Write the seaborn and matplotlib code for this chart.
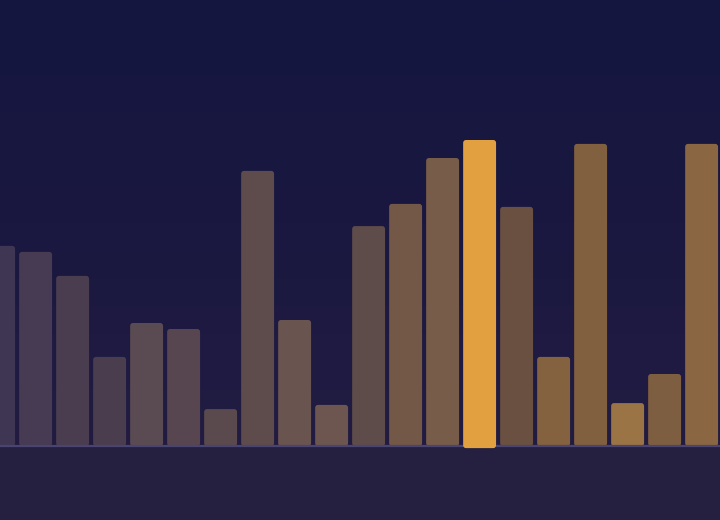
import numpy as np
import pandas as pd
import seaborn as sns
import matplotlib.pyplot as plt
from matplotlib.colors import LinearSegmentedColormap
from matplotlib.patches import FancyBboxPatch

# data
labels = [f"b{i:02d}" for i in range(20)]
values = [66.7, 64.7, 56.7, 29.7, 41.0, 39.0, 12.3, 91.7, 42.0, 13.7,
          73.3, 80.7, 96.0, 102.0, 79.7, 29.7, 100.7, 14.3, 24.0, 100.7]
highlight = 13

bar_colors = ["#3f3654", "#463b52", "#4a3d50", "#4a3d4e", "#5a4a52",
              "#574650", "#5a4a4e", "#5e4c4c", "#6a5450", "#6e5650",
              "#5e4c4a", "#735848", "#785c4a", "#e2a040", "#6a5040",
              "#84623f", "#80603f", "#9a7445", "#7e5e40", "#8a6642"]

df = pd.DataFrame({"label": labels, "value": values})

sns.set_style("white")
fig = plt.figure(figsize=(7.2, 5.2), dpi=100)
fig.patch.set_facecolor("#262040")
ax = fig.add_axes([0, 0, 1, 1])
ax.set_facecolor("#262040")

sns.barplot(data=df, x="label", y="value", hue="label", palette=bar_colors,
            width=0.89, legend=False, saturation=1, ax=ax, zorder=2)

# rounded bars
bars = list(ax.patches)
for i, p in enumerate(bars):
    x, w, h = p.get_x(), p.get_width(), p.get_height()
    y0 = -0.7 if i == highlight else 0
    rb = FancyBboxPatch((x + 0.03, y0), w, h - y0,
                        boxstyle="round,pad=0,rounding_size=0.075",
                        mutation_aspect=13.0,
                        facecolor=p.get_facecolor(), edgecolor="none",
                        zorder=3 if i == highlight else 2)
    p.remove()
    ax.add_patch(rb)

# background gradient above baseline
bg = LinearSegmentedColormap.from_list("bg", ["#141640", "#1a1840", "#221c42"])
grad = np.linspace(0, 1, 256).reshape(-1, 1)
ax.imshow(grad, cmap=bg, aspect="auto", extent=[0, 1, 74 / 520, 1],
          transform=ax.transAxes, zorder=0)

ax.axhline(0.0, color="#4a4470", lw=1.6, zorder=2.5)

ax.set_xlim(0.0676, 19.527)
ax.set_ylim(-74 / 3, 446 / 3)
ax.set_xlabel("")
ax.set_ylabel("")
ax.set_xticks([])
ax.set_yticks([])
for s in ax.spines.values():
    s.set_visible(False)

fig.savefig("out.png", dpi=100, facecolor=fig.get_facecolor())
